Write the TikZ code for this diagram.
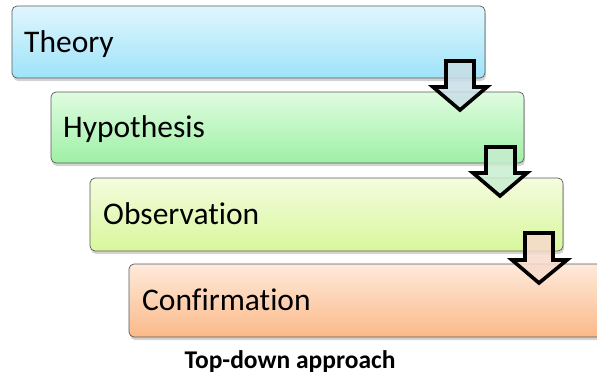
\documentclass[tikz,border=0pt]{standalone}
\usepackage{fontspec}
\setmainfont[Ligatures=NoCommon,RawFeature={-liga;-clig}]{Carlito}
\usetikzlibrary{shadows}
\definecolor{bAtop}{HTML}{E0F6FD}
\definecolor{bAbot}{HTML}{9EE3F9}
\definecolor{bBtop}{HTML}{E0FCE0}
\definecolor{bBbot}{HTML}{9EF0A6}
\definecolor{bCtop}{HTML}{F4FCDE}
\definecolor{bCbot}{HTML}{D8F79C}
\definecolor{bDtop}{HTML}{FEEADC}
\definecolor{bDbot}{HTML}{FBB988}
\definecolor{aA}{HTML}{C9DEE6}
\definecolor{aB}{HTML}{C8EDD0}
\definecolor{aC}{HTML}{F6DACB}
\begin{document}
\begin{tikzpicture}[x=1pt,y=-1pt,
  stagebox/.style={rounded corners=5pt, draw=black!65, line width=0.7pt,
    minimum width=473pt, inner sep=0pt,
    drop shadow={shadow xshift=1pt, shadow yshift=-3pt, opacity=0.35}},
  stagetext/.style={anchor=base west, inner sep=0pt, font=\fontsize{31.5}{36}\selectfont},
  blockarrow/.style={draw=black, line width=3.6pt, line join=miter, miter limit=10, fill opacity=0.85}]
\useasboundingbox (0,0) rectangle (597,378);
\node[stagebox, minimum height=72pt, top color=bAtop, bottom color=bAbot] (b1) at (248.5,42) {};
\node[stagebox, minimum height=71pt, top color=bBtop, bottom color=bBbot] (b2) at (287.5,127.5) {};
\node[stagebox, minimum height=73pt, top color=bCtop, bottom color=bCbot] (b3) at (326.5,214.5) {};
\node[stagebox, minimum height=73pt, top color=bDtop, bottom color=bDbot] (b4) at (365.5,300.5) {};
\node[stagetext] (t1) at (24,52) {Theory};
\node[stagetext] (t2) at (63,137.5) {Hypothesis};
\node[stagetext] (t3) at (103,224) {Observation};
\node[stagetext] (t4) at (142,310) {Confirmation};
\draw[blockarrow, fill=aA] (446,61) -- (474,61) -- (474,87) -- (487,87) -- (460,110) -- (433,87) -- (446,87) -- cycle;
\draw[blockarrow, fill=aB] (486,147) -- (515,147) -- (515,173) -- (527,173) -- (500,196) -- (473,173) -- (486,173) -- cycle;
\draw[blockarrow, fill=aC] (525,233) -- (553,233) -- (553,260) -- (567,260) -- (539,283) -- (512,260) -- (525,260) -- cycle;
\node[anchor=base, inner sep=0pt, font=\fontsize{25.5}{30}\selectfont\bfseries] (title) at (290,368) {Top-down approach};
\end{tikzpicture}
\end{document}
